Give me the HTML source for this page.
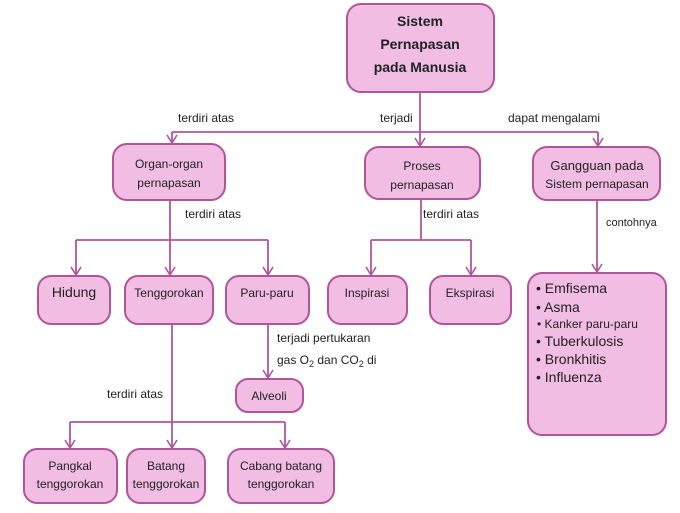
<!DOCTYPE html>
<html><head><meta charset="utf-8"><style>
body{margin:0;background:#fff;}
svg text{font-family:"Liberation Sans",sans-serif;fill:#222;}
</style></head><body>
<svg width="680" height="508" viewBox="0 0 680 508" xmlns="http://www.w3.org/2000/svg">
<defs>
<marker id="a" markerWidth="12" markerHeight="10" refX="6" refY="9" markerUnits="userSpaceOnUse" viewBox="0 0 12 10">
<path d="M1,1 L6,9 L11,1" fill="none" stroke="#b0559a" stroke-width="1.6"/></marker>
</defs>
<g fill="#f2bde3" stroke="#b0559a" stroke-width="2">
<rect x="347" y="4" width="147" height="88" rx="14"/>
<rect x="113" y="144" width="112" height="56" rx="14"/>
<rect x="365" y="147" width="115" height="52" rx="14"/>
<rect x="533" y="147" width="127" height="53" rx="14"/>
<rect x="38" y="276" width="72" height="48" rx="13"/>
<rect x="125" y="276" width="88" height="48" rx="13"/>
<rect x="226" y="276" width="83" height="48" rx="13"/>
<rect x="328" y="276" width="79" height="48" rx="13"/>
<rect x="430" y="276" width="81" height="48" rx="13"/>
<rect x="528" y="273" width="138" height="162" rx="14"/>
<rect x="236" y="379" width="67" height="33" rx="12"/>
<rect x="24" y="449" width="93" height="54" rx="13"/>
<rect x="127" y="449" width="78" height="54" rx="13"/>
<rect x="228" y="449" width="106" height="54" rx="13"/>
</g>
<g fill="none" stroke="#b0559a" stroke-width="1.8">
<path d="M420,92 V132 M172,132 H598"/>
<path d="M172,132 V143" marker-end="url(#a)"/>
<path d="M420,132 V146" marker-end="url(#a)"/>
<path d="M598,132 V146" marker-end="url(#a)"/>
<path d="M170,200 V240 M76,240 H268 M421,199 V240 M371,240 H471"/>
<path d="M76,240 V275" marker-end="url(#a)"/>
<path d="M170,240 V275" marker-end="url(#a)"/>
<path d="M268,240 V275" marker-end="url(#a)"/>
<path d="M371,240 V275" marker-end="url(#a)"/>
<path d="M471,240 V275" marker-end="url(#a)"/>
<path d="M597,200 V272" marker-end="url(#a)"/>
<path d="M268,324 V378" marker-end="url(#a)"/>
<path d="M70,422 H285"/>
<path d="M172,324 V448" marker-end="url(#a)"/>
<path d="M70,422 V448" marker-end="url(#a)"/>
<path d="M285,422 V448" marker-end="url(#a)"/>
</g>
<g font-size="12" text-anchor="middle">
<text x="420" y="26" font-weight="bold" font-size="14">Sistem</text>
<text x="420" y="49" font-weight="bold" font-size="14">Pernapasan</text>
<text x="420" y="72" font-weight="bold" font-size="14">pada Manusia</text>
<text x="169" y="168">Organ-organ</text>
<text x="169" y="187">pernapasan</text>
<text x="422" y="170">Proses</text>
<text x="422" y="189">pernapasan</text>
<text x="597" y="170" font-size="13">Gangguan pada</text>
<text x="597" y="188">Sistem  pernapasan</text>
<text x="74" y="297" font-size="14">Hidung</text>
<text x="169" y="297">Tenggorokan</text>
<text x="267" y="297">Paru-paru</text>
<text x="367" y="297">Inspirasi</text>
<text x="470" y="297">Ekspirasi</text>
<text x="269" y="400">Alveoli</text>
<text x="70" y="470">Pangkal</text>
<text x="70" y="488">tenggorokan</text>
<text x="166" y="470">Batang</text>
<text x="166" y="488">tenggorokan</text>
<text x="281" y="470">Cabang  batang</text>
<text x="281" y="488">tenggorokan</text>
</g>
<g font-size="12">
<text x="178" y="122">terdiri atas</text>
<text x="380" y="122">terjadi</text>
<text x="508" y="122">dapat mengalami</text>
<text x="185" y="218">terdiri atas</text>
<text x="423" y="218">terdiri atas</text>
<text x="606" y="226" font-size="11">contohnya</text>
<text x="277" y="342">terjadi pertukaran</text>
<text x="277" y="364">gas O<tspan font-size="9" dy="3">2</tspan><tspan dy="-3"> dan CO</tspan><tspan font-size="9" dy="3">2</tspan><tspan dy="-3"> di</tspan></text>
<text x="107" y="398">terdiri atas</text>
<text x="536" y="293" font-size="14">• Emfisema</text>
<text x="536" y="312" font-size="14">• Asma</text>
<text x="537" y="328" font-size="12">• Kanker paru-paru</text>
<text x="536" y="346" font-size="14">• Tuberkulosis</text>
<text x="536" y="364" font-size="14">• Bronkhitis</text>
<text x="536" y="382" font-size="14">• Influenza</text>
</g>
</svg>
</body></html>
